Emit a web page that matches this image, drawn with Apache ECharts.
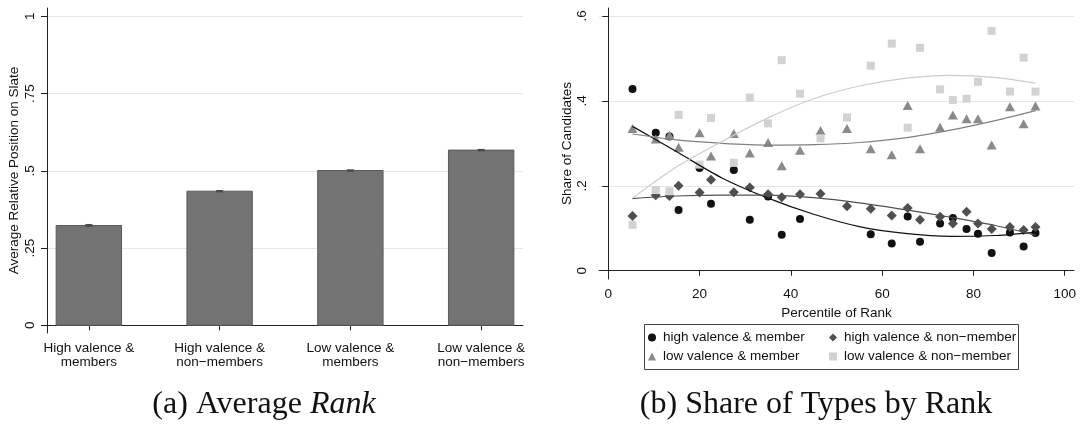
<!DOCTYPE html>
<html>
<head>
<meta charset="utf-8">
<script src="https://cdn.jsdelivr.net/npm/echarts@6/dist/echarts.min.js"></script>
<style>
  html, body { margin: 0; padding: 0; background: #ffffff; }
  #chart { width: 1080px; height: 432px; }
</style>
</head>
<body>
<div id="chart"></div>
<script>
// ---------- Panel (a): average relative position on slate ----------
const barCategories = [
  'High valence &\nmembers',
  'High valence &\nnon\u2212members',
  'Low valence &\nmembers',
  'Low valence &\nnon\u2212members'
];
const barPositions = [1, 2, 3, 4];
const barMeans = [0.323, 0.434, 0.501, 0.567];
const barErrors = [0.003, 0.002, 0.002, 0.002];
const barTicks = [0, 0.25, 0.5, 0.75, 1];
const barTickLabels = ['0', '.25', '.5', '.75', '1'];

// ---------- Panel (b): share of candidate types by percentile of rank ----------
const rankPercentiles = [5.3, 10.4, 13.4, 15.4, 20.0, 22.5, 27.5, 31.0, 35.0, 38.0, 42.0, 46.5, 52.3,
                         57.5, 62.1, 65.6, 68.3, 72.7, 75.5, 78.5, 81.0, 84.0, 88.0, 91.0, 93.6];
const shareHighMember = [0.428, 0.325, 0.316, 0.143, 0.242, 0.158, 0.237, 0.120, 0.175, 0.085, 0.122, null, null,
                         0.086, 0.064, 0.128, 0.068, 0.111, 0.124, 0.098, 0.087, 0.042, 0.090, 0.057, 0.089];
const shareHighNonMember = [0.129, 0.178, 0.176, 0.200, 0.184, 0.214, 0.185, 0.196, 0.180, 0.173, 0.180, 0.181, 0.152,
                            0.146, 0.130, 0.148, 0.120, 0.127, 0.111, 0.139, 0.111, 0.098, 0.103, 0.096, 0.103];
const shareLowMember = [0.335, 0.310, 0.319, 0.291, 0.325, 0.270, 0.323, 0.277, 0.302, 0.247, 0.284, 0.330, 0.335,
                        0.287, 0.273, 0.389, 0.287, 0.338, 0.367, 0.358, 0.358, 0.296, 0.386, 0.346, 0.388];
const shareLowNonMember = [0.108, 0.190, 0.187, 0.367, 0.250, 0.360, 0.254, 0.408, 0.347, 0.496, 0.417, 0.312, 0.361,
                           0.483, 0.535, 0.337, 0.525, 0.427, 0.402, 0.405, 0.445, 0.565, 0.422, 0.502, 0.422];

// fitted trend curves, sampled along the percentile range
const fitPercentiles = [5.3, 15, 25, 35, 45, 55, 65, 75, 85, 93.6];
const fitHighMember = [0.340, 0.280, 0.218, 0.171, 0.133, 0.104, 0.088, 0.081, 0.083, 0.091];
const fitHighNonMember = [0.170, 0.176, 0.178, 0.178, 0.172, 0.160, 0.144, 0.126, 0.106, 0.084];
const fitLowMember = [0.322, 0.308, 0.300, 0.296, 0.297, 0.302, 0.313, 0.331, 0.354, 0.377];
const fitLowNonMember = [0.171, 0.245, 0.305, 0.360, 0.405, 0.435, 0.453, 0.460, 0.455, 0.442];

const shareTicks = [0, 0.2, 0.4, 0.6];
const shareTickLabels = ['0', '.2', '.4', '.6'];
const percentileTicks = [0, 20, 40, 60, 80, 100];

const typeNames = [
  'high valence & member',
  'high valence & non\u2212member',
  'low valence & member',
  'low valence & non\u2212member'
];

// ---------- shared styling ----------
const FONT = '"Liberation Sans", Arial, Helvetica, sans-serif';
const SERIF = '"Liberation Serif", "DejaVu Serif", serif';
const TXT = '#111111';
const AXIS = '#222222';
const GRID = '#e6e6e6';
const FS = 13.5;

const pair = (xs, ys) => xs.map((x, i) => [x, ys[i]]).filter(d => d[1] !== null);

// horizontal reference lines kept underneath every mark
const gridLines = (ticks) => ({
  silent: true,
  z: 0,
  symbol: 'none',
  label: { show: false },
  lineStyle: { color: GRID, width: 1, type: 'solid' },
  data: ticks.map(v => ({ yAxis: v }))
});

const tickLabelOf = (ticks, labels) => (v) => {
  const i = ticks.findIndex(t => Math.abs(t - v) < 1e-9);
  return i >= 0 ? labels[i] : '';
};

const scatterSeries = (name, ys, symbol, size, color, z) => ({
  name, type: 'scatter', xAxisIndex: 1, yAxisIndex: 1,
  symbol, symbolSize: size, z,
  itemStyle: { color, opacity: 1 },
  data: pair(rankPercentiles, ys)
});

const fitSeries = (ys, color) => ({
  type: 'line', xAxisIndex: 1, yAxisIndex: 1, z: 14,
  smooth: 0.3, showSymbol: false, silent: true,
  lineStyle: { color, width: 1.2 },
  data: pair(fitPercentiles, ys)
});

const chart = echarts.init(document.getElementById('chart'), null, { renderer: 'canvas' });

chart.setOption({
  animation: false,
  backgroundColor: '#ffffff',
  textStyle: { fontFamily: FONT, color: TXT },
  grid: [
    { left: 47, top: 8, width: 476, height: 325, containLabel: false },
    { left: 599, top: 8, width: 475, height: 271, containLabel: false }
  ],
  xAxis: [
    {
      gridIndex: 0, type: 'value', min: 0.68, max: 4.32,
      axisLine: { show: true, lineStyle: { color: AXIS, width: 1 } },
      axisTick: { show: true, length: 5, customValues: barPositions, lineStyle: { color: AXIS } },
      axisLabel: {
        customValues: barPositions, margin: 9, fontSize: FS, lineHeight: 13.5,
        color: TXT, fontFamily: FONT,
        formatter: (v) => barCategories[barPositions.indexOf(v)] || ''
      },
      splitLine: { show: false }
    },
    {
      gridIndex: 1, type: 'value', min: -2.04, max: 102.04,
      name: 'Percentile of Rank', nameLocation: 'middle', nameGap: 20,
      nameTextStyle: { fontSize: FS, color: TXT, fontFamily: FONT },
      axisLine: { show: true, lineStyle: { color: AXIS, width: 1 } },
      axisTick: { show: true, length: 5, customValues: percentileTicks, lineStyle: { color: AXIS } },
      axisLabel: { customValues: percentileTicks, margin: 8, fontSize: FS, color: TXT, fontFamily: FONT },
      splitLine: { show: false }
    }
  ],
  yAxis: [
    {
      gridIndex: 0, type: 'value', min: -0.025, max: 1.027,
      name: 'Average Relative Position on Slate', nameLocation: 'middle', nameRotate: 90, nameGap: 26,
      nameTextStyle: { fontSize: FS, color: TXT, fontFamily: FONT },
      axisLine: { show: true, lineStyle: { color: AXIS, width: 1 } },
      axisTick: { show: true, length: 6, customValues: barTicks, lineStyle: { color: AXIS } },
      axisLabel: {
        customValues: barTicks, rotate: 90, margin: 10, fontSize: FS, color: TXT, fontFamily: FONT,
        formatter: tickLabelOf(barTicks, barTickLabels)
      },
      splitLine: { show: false }
    },
    {
      gridIndex: 1, type: 'value', min: -0.0195, max: 0.6188,
      name: 'Share of Candidates', nameLocation: 'middle', nameRotate: 90, nameGap: 24,
      nameTextStyle: { fontSize: FS, color: TXT, fontFamily: FONT },
      axisLine: { show: true, lineStyle: { color: AXIS, width: 1 } },
      axisTick: { show: true, length: 6, customValues: shareTicks, lineStyle: { color: AXIS } },
      axisLabel: {
        customValues: shareTicks, rotate: 90, margin: 10, fontSize: FS, color: TXT, fontFamily: FONT,
        formatter: tickLabelOf(shareTicks, shareTickLabels)
      },
      splitLine: { show: false }
    }
  ],
  legend: [
    {
      orient: 'vertical', left: 648, top: 330.5, padding: 0, z: 20,
      itemWidth: 8, itemHeight: 8, itemGap: 5, selectedMode: false,
      textStyle: { fontSize: FS, color: TXT, fontFamily: FONT, lineHeight: 14, padding: [0, 0, 0, 2] },
      data: [
        { name: typeNames[0], icon: 'circle' },
        { name: typeNames[2], icon: 'triangle' }
      ]
    },
    {
      orient: 'vertical', left: 829, top: 330.5, padding: 0, z: 20,
      itemWidth: 8, itemHeight: 8, itemGap: 5, selectedMode: false,
      textStyle: { fontSize: FS, color: TXT, fontFamily: FONT, lineHeight: 14, padding: [0, 0, 0, 2] },
      data: [
        { name: typeNames[1], icon: 'diamond' },
        { name: typeNames[3], icon: 'rect' }
      ]
    }
  ],
  graphic: [
    {
      type: 'rect', left: 644, top: 324, z: 0, silent: true,
      shape: { width: 374, height: 45 },
      style: { fill: '#ffffff', stroke: '#444444', lineWidth: 1 }
    },
    {
      type: 'text', x: 264, y: 405, silent: true,
      style: {
        text: '(a) Average {i|Rank}',
        font: '32px ' + SERIF,
        fill: '#111111', align: 'center', verticalAlign: 'middle',
        rich: { i: { fontStyle: 'italic', font: 'italic 32px ' + SERIF } }
      }
    },
    {
      type: 'text', x: 816, y: 405, silent: true,
      style: {
        text: '(b) Share of Types by Rank',
        font: '32px ' + SERIF,
        fill: '#111111', align: 'center', verticalAlign: 'middle'
      }
    }
  ],
  series: [
    // panel (a) gridlines
    { type: 'line', xAxisIndex: 0, yAxisIndex: 0, z: 0, data: [], markLine: gridLines(barTicks) },
    // panel (a) bars
    {
      type: 'custom', xAxisIndex: 0, yAxisIndex: 0, z: 10, silent: true,
      data: pair(barPositions, barMeans),
      renderItem: (params, api) => {
        const x = api.value(0), y = api.value(1);
        const base = api.coord([x - 0.25, 0]);
        const top = api.coord([x + 0.25, y]);
        return {
          type: 'rect',
          shape: { x: base[0], y: top[1], width: top[0] - base[0], height: base[1] - top[1] },
          style: { fill: '#737373', stroke: '#5a5a5a', lineWidth: 1 }
        };
      }
    },
    // panel (a) confidence caps
    {
      type: 'custom', xAxisIndex: 0, yAxisIndex: 0, z: 11, silent: true,
      data: barPositions.map((p, i) => [p, barMeans[i] - barErrors[i], barMeans[i] + barErrors[i]]),
      renderItem: (params, api) => {
        const lo = api.coord([api.value(0), api.value(1)]);
        const hi = api.coord([api.value(0), api.value(2)]);
        const w = 3.5;
        const st = { stroke: '#4a4a4a', lineWidth: 1.2 };
        return {
          type: 'group',
          children: [
            { type: 'line', shape: { x1: lo[0], y1: lo[1], x2: hi[0], y2: hi[1] }, style: st },
            { type: 'line', shape: { x1: lo[0] - w, y1: lo[1], x2: lo[0] + w, y2: lo[1] }, style: st },
            { type: 'line', shape: { x1: hi[0] - w, y1: hi[1], x2: hi[0] + w, y2: hi[1] }, style: st }
          ]
        };
      }
    },
    // panel (b) gridlines
    { type: 'line', xAxisIndex: 1, yAxisIndex: 1, z: 0, data: [], markLine: gridLines(shareTicks) },
    // panel (b) markers
    scatterSeries(typeNames[0], shareHighMember, 'circle', 8, '#111111', 10),
    scatterSeries(typeNames[1], shareHighNonMember, 'diamond', 10, '#4f4f4f', 11),
    scatterSeries(typeNames[2], shareLowMember, 'triangle', [10, 9], '#8a8a8a', 12),
    scatterSeries(typeNames[3], shareLowNonMember, 'rect', 8, '#d2d2d2', 13),
    // panel (b) fitted curves
    fitSeries(fitHighMember, '#111111'),
    fitSeries(fitHighNonMember, '#505050'),
    fitSeries(fitLowMember, '#808080'),
    fitSeries(fitLowNonMember, '#cccccc')
  ]
});
</script>
</body>
</html>
